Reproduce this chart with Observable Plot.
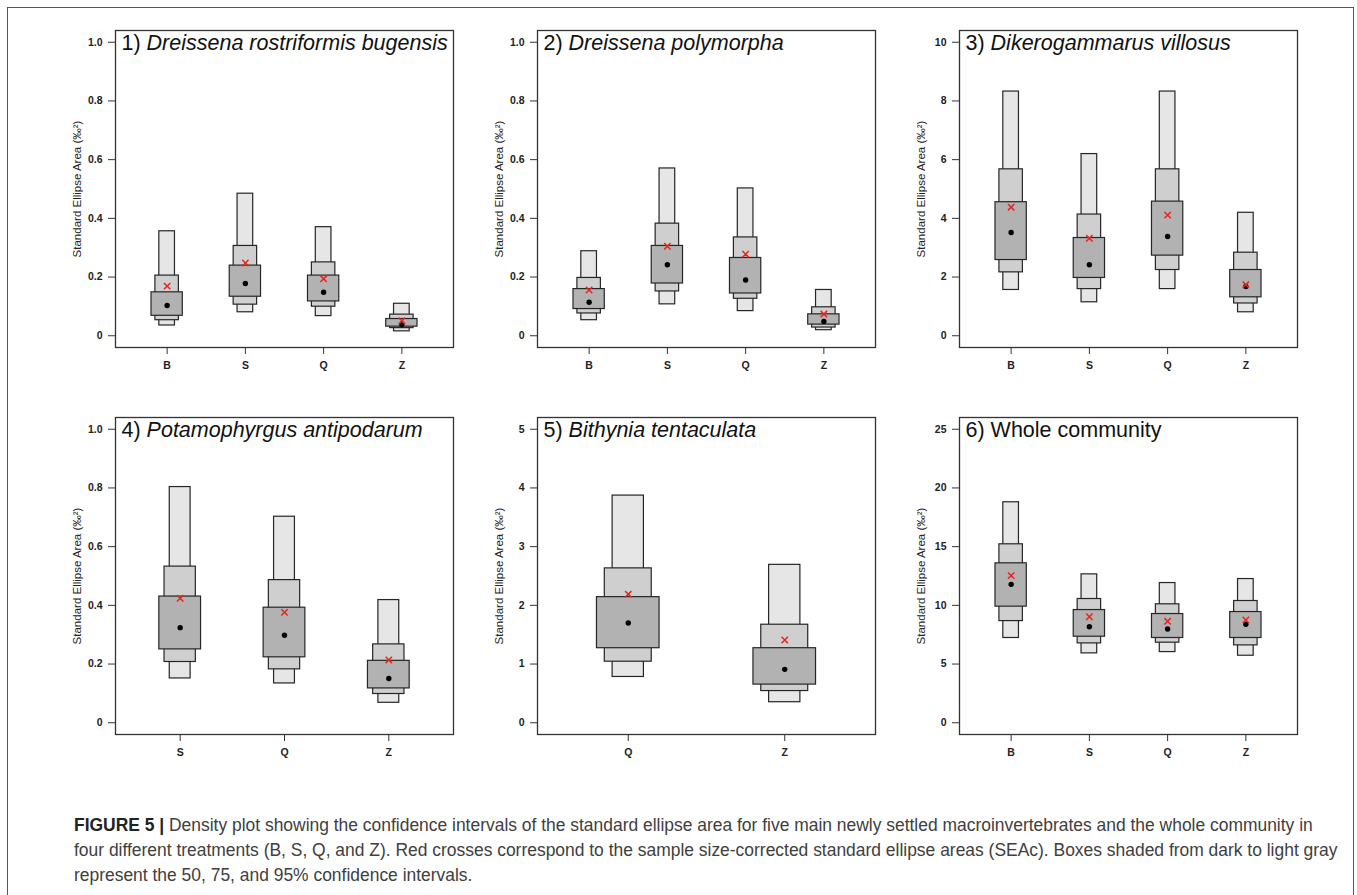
<!DOCTYPE html>
<html>
<head>
<meta charset="utf-8">
<script src="https://cdn.jsdelivr.net/npm/d3@7"></script>
<script src="https://cdn.jsdelivr.net/npm/@observablehq/plot@0.6"></script>
<style>
  html, body { margin: 0; padding: 0; background: #fff; overflow: hidden; }
  #page { position: relative; width: 1357px; height: 895px; overflow: hidden; font-family: "Liberation Sans", Arial, sans-serif; }
  #frame { position: absolute; left: 7px; top: 7px; width: 1347px; height: 1000px; border: 1px solid #555; box-sizing: border-box; }
  .panel { position: absolute; }
  #cap { position: absolute; left: 74px; top: 813px; font-size: 17.45px; line-height: 25px; color: #404040; white-space: nowrap; }
  #cap b { color: #222; }
</style>
</head>
<body>
<div id="page">
  <div id="frame"></div>
  <div id="cap"><b>FIGURE 5 |</b> Density plot showing the confidence intervals of the standard ellipse area for five main newly settled macroinvertebrates and the whole community in<br>four different treatments (B, S, Q, and Z). Red crosses correspond to the sample size-corrected standard ellipse areas (SEAc). Boxes shaded from dark to light gray<br>represent the 50, 75, and 95% confidence intervals.</div>
</div>
<script>
// ---------- data ----------
const yLabel = "Standard Ellipse Area (‰²)";

// Panel 1: Dreissena rostriformis bugensis
const p1Cats = ["B", "S", "Q", "Z"];
const p1Lo95 = [0.035, 0.080, 0.067, 0.015];
const p1Hi95 = [0.356, 0.484, 0.370, 0.109];
const p1Lo75 = [0.053, 0.106, 0.099, 0.026];
const p1Hi75 = [0.205, 0.306, 0.250, 0.072];
const p1Lo50 = [0.068, 0.133, 0.117, 0.031];
const p1Hi50 = [0.148, 0.239, 0.205, 0.057];
const p1Mode = [0.103, 0.178, 0.148, 0.038];
const p1SEAc = [0.169, 0.248, 0.194, 0.051];
const p1Ticks = [0, 0.2, 0.4, 0.6, 0.8, 1.0];

// Panel 2: Dreissena polymorpha
const p2Cats = ["B", "S", "Q", "Z"];
const p2Lo95 = [0.053, 0.107, 0.084, 0.019];
const p2Hi95 = [0.288, 0.570, 0.502, 0.156];
const p2Lo75 = [0.076, 0.151, 0.126, 0.028];
const p2Hi75 = [0.197, 0.382, 0.335, 0.097];
const p2Lo50 = [0.091, 0.178, 0.144, 0.038];
const p2Hi50 = [0.159, 0.306, 0.265, 0.073];
const p2Mode = [0.114, 0.242, 0.190, 0.049];
const p2SEAc = [0.156, 0.305, 0.278, 0.074];
const p2Ticks = [0, 0.2, 0.4, 0.6, 0.8, 1.0];

// Panel 3: Dikerogammarus villosus
const p3Cats = ["B", "S", "Q", "Z"];
const p3Lo95 = [1.56, 1.14, 1.59, 0.80];
const p3Hi95 = [8.32, 6.19, 8.32, 4.19];
const p3Lo75 = [2.16, 1.59, 2.24, 1.10];
const p3Hi75 = [5.67, 4.13, 5.67, 2.83];
const p3Lo50 = [2.58, 1.97, 2.73, 1.31];
const p3Hi50 = [4.55, 3.33, 4.57, 2.24];
const p3Mode = [3.52, 2.42, 3.38, 1.68];
const p3SEAc = [4.38, 3.32, 4.11, 1.74];
const p3Ticks = [0, 2, 4, 6, 8, 10];

// Panel 4: Potamophyrgus antipodarum
const p4Cats = ["S", "Q", "Z"];
const p4Lo95 = [0.151, 0.134, 0.068];
const p4Hi95 = [0.803, 0.702, 0.418];
const p4Lo75 = [0.207, 0.182, 0.098];
const p4Hi75 = [0.532, 0.486, 0.267];
const p4Lo50 = [0.250, 0.223, 0.117];
const p4Hi50 = [0.430, 0.392, 0.211];
const p4Mode = [0.324, 0.298, 0.151];
const p4SEAc = [0.424, 0.376, 0.214];
const p4Ticks = [0, 0.2, 0.4, 0.6, 0.8, 1.0];

// Panel 5: Bithynia tentaculata
const p5Cats = ["Q", "Z"];
const p5Lo95 = [0.78, 0.35];
const p5Hi95 = [3.87, 2.69];
const p5Lo75 = [1.04, 0.54];
const p5Hi75 = [2.63, 1.67];
const p5Lo50 = [1.27, 0.65];
const p5Hi50 = [2.14, 1.27];
const p5Mode = [1.70, 0.91];
const p5SEAc = [2.19, 1.41];
const p5Ticks = [0, 1, 2, 3, 4, 5];

// Panel 6: Whole community
const p6Cats = ["B", "S", "Q", "Z"];
const p6Lo95 = [7.22, 5.91, 6.02, 5.71];
const p6Hi95 = [18.78, 12.64, 11.90, 12.24];
const p6Lo75 = [8.66, 6.76, 6.82, 6.59];
const p6Hi75 = [15.20, 10.54, 10.09, 10.37];
const p6Lo50 = [9.89, 7.33, 7.22, 7.22];
const p6Hi50 = [13.58, 9.60, 9.26, 9.43];
const p6Mode = [11.79, 8.18, 7.98, 8.38];
const p6SEAc = [12.53, 9.03, 8.64, 8.75];
const p6Ticks = [0, 5, 10, 15, 20, 25];

const panels = [
  {num: "1) ", name: "Dreissena rostriformis bugensis", italic: true, cats: p1Cats, lo95: p1Lo95, hi95: p1Hi95, lo75: p1Lo75, hi75: p1Hi75, lo50: p1Lo50, hi50: p1Hi50, mode: p1Mode, seac: p1SEAc, ticks: p1Ticks},
  {num: "2) ", name: "Dreissena polymorpha", italic: true, cats: p2Cats, lo95: p2Lo95, hi95: p2Hi95, lo75: p2Lo75, hi75: p2Hi75, lo50: p2Lo50, hi50: p2Hi50, mode: p2Mode, seac: p2SEAc, ticks: p2Ticks},
  {num: "3) ", name: "Dikerogammarus villosus", italic: true, cats: p3Cats, lo95: p3Lo95, hi95: p3Hi95, lo75: p3Lo75, hi75: p3Hi75, lo50: p3Lo50, hi50: p3Hi50, mode: p3Mode, seac: p3SEAc, ticks: p3Ticks},
  {num: "4) ", name: "Potamophyrgus antipodarum", italic: true, cats: p4Cats, lo95: p4Lo95, hi95: p4Hi95, lo75: p4Lo75, hi75: p4Hi75, lo50: p4Lo50, hi50: p4Hi50, mode: p4Mode, seac: p4SEAc, ticks: p4Ticks},
  {num: "5) ", name: "Bithynia tentaculata", italic: true, cats: p5Cats, lo95: p5Lo95, hi95: p5Hi95, lo75: p5Lo75, hi75: p5Hi75, lo50: p5Lo50, hi50: p5Hi50, mode: p5Mode, seac: p5SEAc, ticks: p5Ticks},
  {num: "6) ", name: "Whole community", italic: false, cats: p6Cats, lo95: p6Lo95, hi95: p6Hi95, lo75: p6Lo75, hi75: p6Hi75, lo50: p6Lo50, hi50: p6Hi50, mode: p6Mode, seac: p6SEAc, ticks: p6Ticks}
];

// ---------- layout ----------
const boxLefts = [115, 537, 959];
const boxTops = [30, 417];
const boxW = 338, boxH = 317;
const mL = 60, mT = 5, mR = 5, mB = 40;

const page = document.getElementById("page");

panels.forEach((p, k) => {
  const n = p.cats.length;
  const rows = p.cats.map((c, i) => ({
    x: i + 1, lo95: p.lo95[i], hi95: p.hi95[i], lo75: p.lo75[i], hi75: p.hi75[i],
    lo50: p.lo50[i], hi50: p.hi50[i], mode: p.mode[i], seac: p.seac[i]
  }));
  const xPad = 0.04 * n;
  const yMax = p.ticks[p.ticks.length - 1];
  const yPad = 0.04 * yMax;
  const fmt = d => (d === 0 ? "0" : (yMax <= 1 ? d.toFixed(1) : String(d)));
  const edge = "#262626";

  const chart = Plot.plot({
    width: mL + boxW + mR,
    height: mT + boxH + mB,
    marginLeft: mL, marginTop: mT, marginRight: mR, marginBottom: mB,
    style: {fontFamily: "'Liberation Sans', Arial, sans-serif", fontSize: "10.5px", fontWeight: "bold", color: "#222", background: "transparent"},
    x: {type: "linear", domain: [0.5 - xPad, n + 0.5 + xPad]},
    y: {type: "linear", domain: [-yPad, yMax + yPad]},
    marks: [
      Plot.rect(rows, {x1: d => d.x - 0.1, x2: d => d.x + 0.1, y1: "lo95", y2: "hi95", fill: "#e6e6e6", stroke: edge, strokeWidth: 1.2}),
      Plot.rect(rows, {x1: d => d.x - 0.15, x2: d => d.x + 0.15, y1: "lo75", y2: "hi75", fill: "#cfcfcf", stroke: edge, strokeWidth: 1.2}),
      Plot.rect(rows, {x1: d => d.x - 0.2, x2: d => d.x + 0.2, y1: "lo50", y2: "hi50", fill: "#b2b2b2", stroke: edge, strokeWidth: 1.2}),
      Plot.dot(rows, {x: "x", y: "mode", r: 2.7, fill: "black", stroke: "none"}),
      Plot.dot(rows, {x: "x", y: "seac", symbol: "times", r: 3, stroke: "#e8241c", strokeWidth: 1.5}),
      Plot.frame({stroke: "#333", strokeWidth: 1.3}),
      Plot.axisY({ticks: p.ticks, tickFormat: fmt, tickSize: 7, tickPadding: 6, label: null, stroke: "#333"}),
      Plot.axisX({ticks: d3.range(1, n + 1), tickFormat: i => p.cats[i - 1], tickSize: 7, tickPadding: 7, label: null, stroke: "#333"}),
      Plot.text([yLabel], {text: d => d, frameAnchor: "left", dx: -38, rotate: -90, textAnchor: "middle", lineAnchor: "middle", fontSize: 11.5, fontWeight: "normal", fill: "#222"})
    ]
  });

  // panel title with mixed upright / italic text
  const svg = d3.select(chart);
  const t = svg.append("text")
    .attr("x", mL + 6.5)
    .attr("y", mT + 20)
    .attr("text-anchor", "start")
    .attr("font-size", 21.5)
    .attr("font-weight", "normal")
    .attr("fill", "#111");
  t.append("tspan").text(p.num);
  t.append("tspan").attr("font-style", p.italic ? "italic" : "normal").text(p.name);

  const col = k % 3, row = Math.floor(k / 3);
  chart.classList.add("panel");
  chart.style.left = (boxLefts[col] - mL) + "px";
  chart.style.top = (boxTops[row] - mT) + "px";
  page.appendChild(chart);
});
</script>
</body>
</html>
